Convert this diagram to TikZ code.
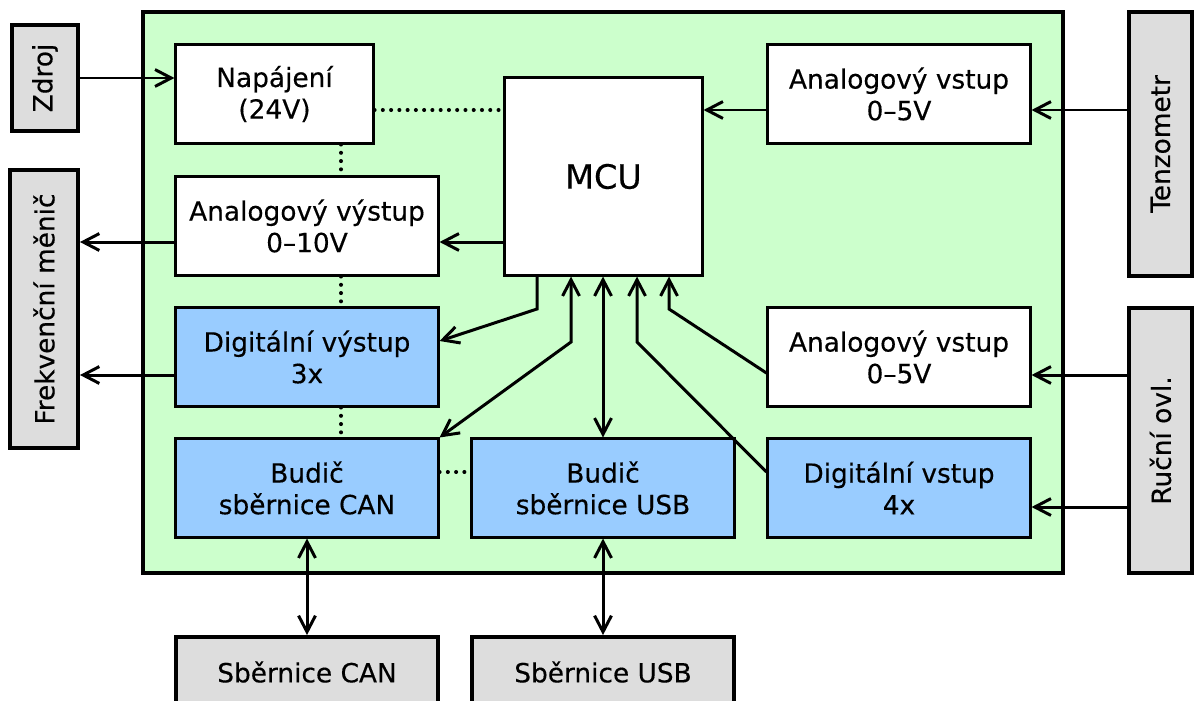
\documentclass[tikz,border=0pt]{standalone}
\usepackage{fontspec}
\setmainfont{DejaVu Sans}[FakeBold=0.35]
\usetikzlibrary{arrows.meta}
\definecolor{boardgreen}{HTML}{CCFFCC}
\definecolor{boxblue}{HTML}{99CCFF}
\definecolor{extgray}{HTML}{DDDDDD}

\begin{document}
\begin{tikzpicture}[x=0.01cm, y=-0.01cm,
  every node/.style={font=\fontsize{7.5}{9}\selectfont, align=center, inner sep=0pt},
  innerbox/.style={draw, line width=0.85pt, fill=white, minimum width=2.62cm, minimum height=0.98cm},
  bluebox/.style={innerbox, fill=boxblue},
  extbox/.style={draw, line width=1.1pt, fill=extgray},
  sidebox/.style={extbox, rotate=90},
  conn/.style={line width=0.85pt, >={Straight Barb[length=4.6pt,width=4.8pt]}},
  dotconn/.style={line width=1.15pt, line cap=round, dash pattern=on 0pt off 2.35pt}]

  \useasboundingbox (0,0) rectangle (1198,700);
  \clip (0,0) rectangle (1198,700);

  %% board
  \draw[line width=1.2pt, fill=boardgreen] (143,12) rectangle (1063,573);

  %% outside world (rotated: south = right side, north = left side)
  \node[sidebox, minimum width=1.06cm, minimum height=0.66cm] (zdroj) at (45,78) {Zdroj};
  \node[sidebox, minimum width=2.78cm, minimum height=0.68cm] (menic) at (44,309) {Frekvenční měnič};
  \node[sidebox, minimum width=2.64cm, minimum height=0.63cm] (tenzometr) at (1160.5,144) {Tenzometr};
  \node[sidebox, minimum width=2.65cm, minimum height=0.63cm] (rucni) at (1160.5,440.5) {Ruční ovl.};
  \node[extbox, minimum width=2.62cm, minimum height=0.70cm] (buscan) at (307,672) {Sběrnice CAN};
  \node[extbox, minimum width=2.62cm, minimum height=0.70cm] (bususb) at (603,672) {Sběrnice USB};

  %% blocks on the board
  \node[innerbox, minimum width=1.97cm] (napajeni) at (274.5,94) {Napájení\\(24V)};
  \node[innerbox] (avystup) at (307,226) {Analogový výstup\\0–10V};
  \node[innerbox, minimum width=1.97cm, minimum height=1.97cm, font=\fontsize{9.5}{11}\selectfont] (mcu) at (603.5,176.5) {MCU};
  \node[innerbox] (avstupa) at (899,94) {Analogový vstup\\0–5V};
  \node[bluebox] (dvystup) at (307,357) {Digitální výstup\\3x};
  \node[innerbox] (avstupb) at (899,357) {Analogový vstup\\0–5V};
  \node[bluebox] (budiccan) at (307,488) {Budič\\sběrnice CAN};
  \node[bluebox] (budicusb) at (603,488) {Budič\\sběrnice USB};
  \node[bluebox] (dvstup) at (899,488) {Digitální vstup\\4x};

  %% rows, columns and bends of the wiring
  \coordinate (r1) at (0,110);
  \coordinate (r2) at (0,242);
  \coordinate (r3) at (0,375);
  \coordinate (r4) at (0,472);
  \coordinate (r5) at (0,507);
  \coordinate (c1) at (341,0);
  \coordinate (k1) at (537,309);
  \coordinate (k2) at (571,342);
  \coordinate (k3) at (637,342);
  \coordinate (k4) at (669,309);

  %% power
  \draw[conn,->] (zdroj.south) -- (zdroj.south -| napajeni.west);
  \draw[dotconn] (napajeni.east |- r1) -- (mcu.west |- r1);
  \draw[dotconn] (napajeni.south -| c1) -- (avystup.north -| c1);
  \draw[dotconn] (avystup.south -| c1) -- (dvystup.north -| c1);
  \draw[dotconn] (dvystup.south -| c1) -- (budiccan.north -| c1);
  \draw[dotconn] (budiccan.east |- r4) -- (budicusb.west |- r4);

  %% inputs
  \draw[conn,->] (tenzometr.north |- r1) -- (avstupa.east |- r1);
  \draw[conn,->] (avstupa.west |- r1) -- (mcu.east |- r1);
  \draw[conn,->] (rucni.north |- r3) -- (avstupb.east |- r3);
  \draw[conn,->] (rucni.north |- r5) -- (dvstup.east |- r5);

  %% outputs
  \draw[conn,->] (mcu.west |- r2) -- (avystup.east |- r2);
  \draw[conn,->] (avystup.west |- r2) -- (menic.south |- r2);
  \draw[conn,->] (dvystup.west |- r3) -- (menic.south |- r3);

  %% under the MCU
  \draw[conn,->] (mcu.south -| k1) -- (k1) -- (dvystup.east |- 0,341);
  \draw[conn,<->] (mcu.south -| k2) -- (k2) -- (budiccan.north east);
  \draw[conn,<->] (mcu.south -| budicusb.north) -- (budicusb.north);
  \draw[conn,<-] (mcu.south -| k3) -- (k3) -- (dvstup.west |- 0,472);
  \draw[conn,<-] (mcu.south -| k4) -- (k4) -- (avstupb.west |- 0,373);

  %% buses
  \draw[conn,<->] (budiccan.south) -- (buscan.north);
  \draw[conn,<->] (budicusb.south) -- (bususb.north);

\end{tikzpicture}
\end{document}
